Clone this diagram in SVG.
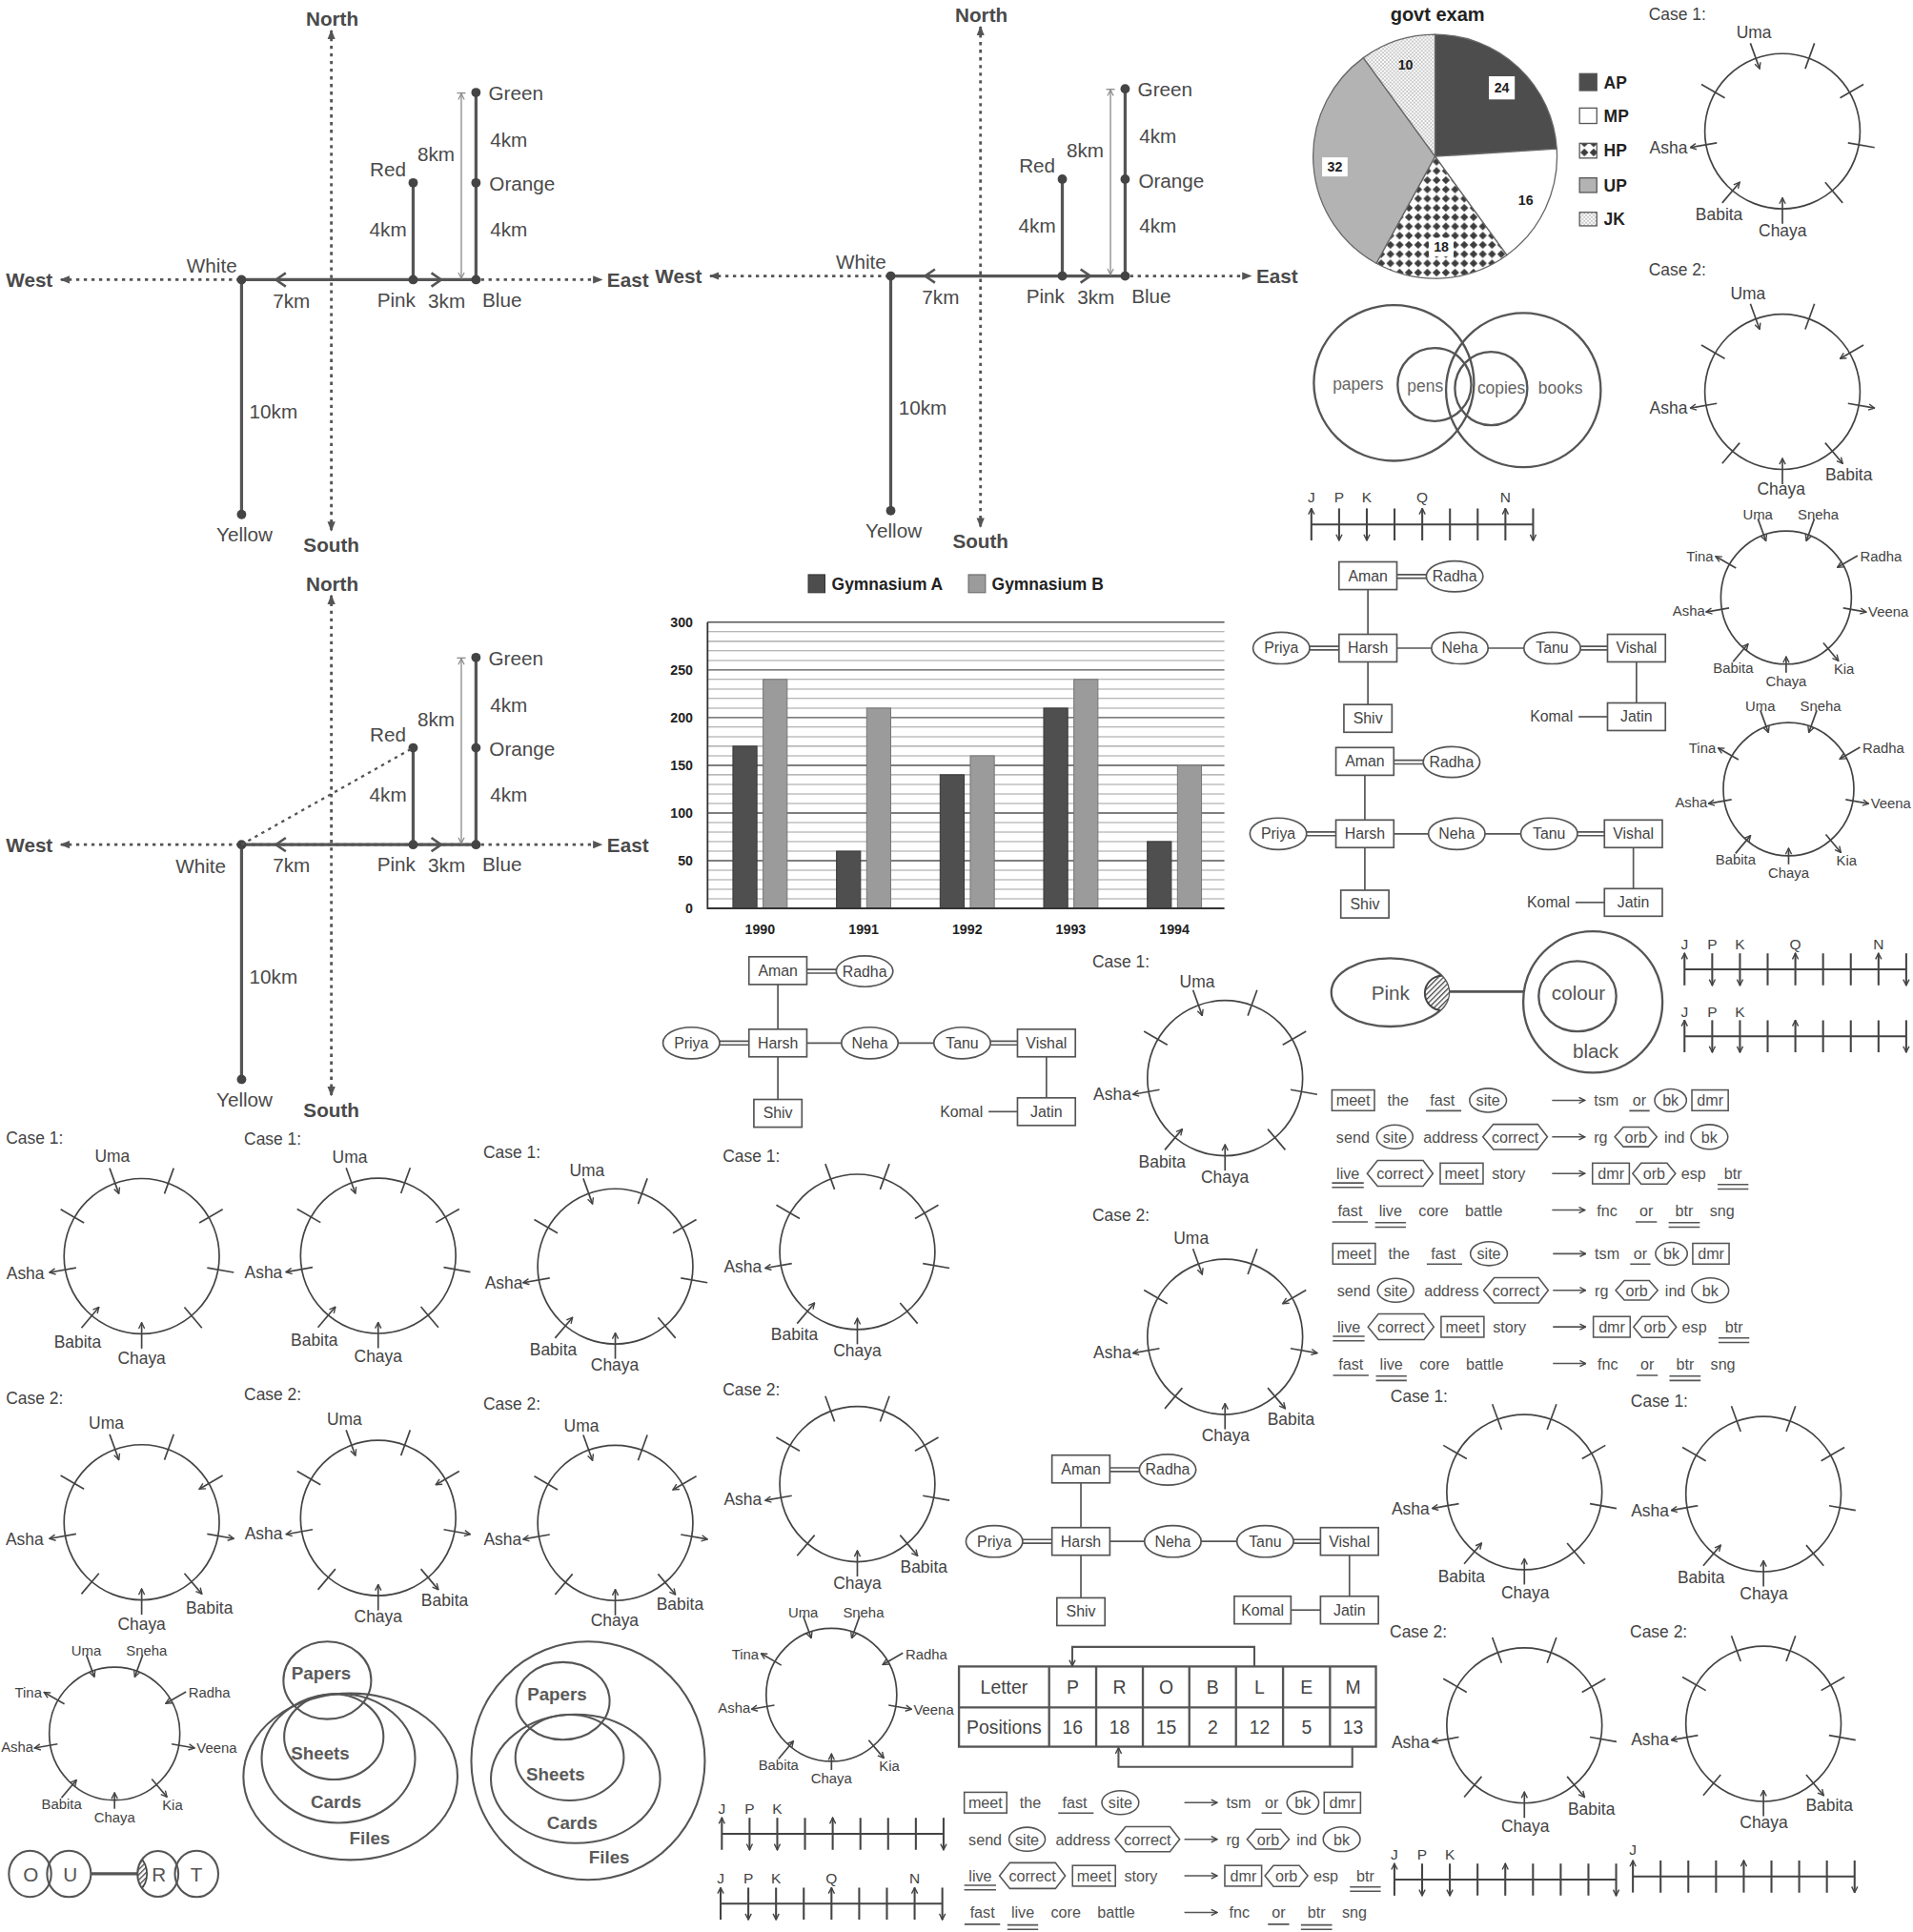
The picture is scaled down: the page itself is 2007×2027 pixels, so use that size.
<svg xmlns="http://www.w3.org/2000/svg" width="2007" height="2027" viewBox="0 0 2007 2027">
<defs>
<style>
text{font-family:"Liberation Sans",Arial,Helvetica,sans-serif;fill:#444;text-anchor:middle;dominant-baseline:central}
.b{font-weight:bold}
.st{text-anchor:start}
.en{text-anchor:end}
.dl{font-size:16px;fill:#4a4a4a}
.cl{font-size:13.5px}
.el{font-size:11.5px}
.tl{font-size:12.3px}
.cb{font-size:12.5px;fill:#505050}
.nl{font-size:12px}
.vn{font-size:13.5px;fill:#666}
.pv{font-size:14.5px;font-weight:bold;fill:#5a5a5a}
.tb{font-size:15px}
.pl{font-size:11px;font-weight:bold;fill:#222}
.lg{font-size:13.5px;font-weight:bold;fill:#222}
.ax{font-size:11px;font-weight:bold;fill:#222}
.s{fill:none;stroke:#444;stroke-width:1.3}
.ar{marker-end:url(#ah)}
.sol{fill:none;stroke:#555;stroke-width:2.5}
.dot{fill:none;stroke:#555;stroke-width:2.2;stroke-dasharray:2.6 3.6}
.nd{fill:#444}
.bx{fill:#fff;stroke:#555;stroke-width:1.3}
.vc{fill:none;stroke:#555;stroke-width:1.6}
</style>
<marker id="ah" viewBox="0 0 10 10" refX="9" refY="5" markerWidth="6" markerHeight="6" markerUnits="userSpaceOnUse" orient="auto-start-reverse"><path d="M1,1L9,5L1,9" fill="none" stroke="#444" stroke-width="1.8"/></marker>
<marker id="ahg" viewBox="0 0 10 10" refX="9" refY="5" markerWidth="6" markerHeight="6" markerUnits="userSpaceOnUse" orient="auto-start-reverse"><path d="M1,1L9,5L1,9" fill="none" stroke="#888" stroke-width="1.5"/></marker>
<marker id="tri" viewBox="0 0 10 10" refX="9" refY="5" markerWidth="8" markerHeight="8" markerUnits="userSpaceOnUse" orient="auto-start-reverse"><path d="M0,1L10,5L0,9Z" fill="#555"/></marker>
<pattern id="diam" width="7.5" height="7.5" patternUnits="userSpaceOnUse"><rect width="7.5" height="7.5" fill="#fff"/><path d="M3.75,0.5L7,3.75L3.75,7L0.5,3.75Z" fill="#3d3d3d"/></pattern>
<pattern id="dots" width="3" height="3" patternUnits="userSpaceOnUse"><rect width="3" height="3" fill="#fff"/><circle cx="0.75" cy="0.75" r="0.55" fill="#777"/><circle cx="2.25" cy="2.25" r="0.55" fill="#777"/></pattern>
<pattern id="hatch" width="3" height="3" patternUnits="userSpaceOnUse" patternTransform="rotate(45)"><rect width="3" height="3" fill="#fff"/><line x1="0.5" y1="0" x2="0.5" y2="3" stroke="#444" stroke-width="1"/></pattern>
<clipPath id="pinkClip"><ellipse cx="1128.5" cy="805.4" rx="47.7" ry="27.7"/></clipPath>
<clipPath id="rClip"><ellipse cx="128.2" cy="1520.8" rx="16.6" ry="18.6"/></clipPath>

<g id="dirS">
<line class="dot" x1="269" y1="24.7" x2="269" y2="430.6" style="marker-start:url(#tri);marker-end:url(#tri)"/>
<line class="dot" x1="49.4" y1="227" x2="488.6" y2="227" style="marker-start:url(#tri);marker-end:url(#tri)"/>
<path class="sol" d="M196.1,227H386.4M335.4,227V148.4M386.4,227V75.1M196.1,227V417.5"/>
<path d="M232,221.5L224,227L232,232.5M350.2,221.5L358.2,227L350.2,232.5" fill="none" stroke="#555" stroke-width="2"/>
<line x1="374.5" y1="76" x2="374.5" y2="226" stroke="#888" stroke-width="1" style="marker-start:url(#ahg);marker-end:url(#ahg)"/>
<path d="M371,75.5H378" stroke="#888" stroke-width="1"/>
<g class="nd"><circle cx="196.1" cy="227" r="3.8"/><circle cx="335.4" cy="227" r="3.8"/><circle cx="386.4" cy="227" r="3.8"/><circle cx="335.4" cy="148.4" r="3.8"/><circle cx="386.4" cy="148.4" r="3.8"/><circle cx="386.4" cy="75.1" r="3.8"/><circle cx="196.1" cy="417.5" r="3.8"/></g>
</g>

<g id="c1u" class="s">
<circle r="63"/>
<path d="M18.5,-50.7L26,-71.4M46.8,-27L65.8,-38M53.2,9.4L74.8,13.2M34.7,41.4L48.9,58.2M-46.8,-27L-65.8,-38"/>
<line class="ar" x1="-26" y1="-71.4" x2="-18.5" y2="-50.7"/>
<line class="ar" x1="-48.9" y1="58.2" x2="-34.7" y2="41.4"/>
<line class="ar" x1="0" y1="75" x2="0" y2="54"/>
<line class="ar" x1="-53.2" y1="9.4" x2="-74.8" y2="13.2"/>
</g>
<g id="c1" class="s">
<circle r="63"/>
<path d="M-18.5,-50.7L-26,-71.4M18.5,-50.7L26,-71.4M46.8,-27L65.8,-38M53.2,9.4L74.8,13.2M34.7,41.4L48.9,58.2M-46.8,-27L-65.8,-38"/>
<line class="ar" x1="-48.9" y1="58.2" x2="-34.7" y2="41.4"/>
<line class="ar" x1="0" y1="75" x2="0" y2="54"/>
<line class="ar" x1="-53.2" y1="9.4" x2="-74.8" y2="13.2"/>
</g>
<g id="c2u" class="s">
<circle r="63"/>
<path d="M18.5,-50.7L26,-71.4M-46.8,-27L-65.8,-38M-34.7,41.4L-48.9,58.2"/>
<line class="ar" x1="-26" y1="-71.4" x2="-18.5" y2="-50.7"/>
<line class="ar" x1="65.8" y1="-38" x2="46.8" y2="-27"/>
<line class="ar" x1="0" y1="75" x2="0" y2="54"/>
<line class="ar" x1="-53.2" y1="9.4" x2="-74.8" y2="13.2"/>
<line class="ar" x1="53.2" y1="9.4" x2="74.8" y2="13.2"/>
<line class="ar" x1="34.7" y1="41.4" x2="48.9" y2="58.2"/>
</g>
<g id="c2" class="s">
<circle r="63"/>
<path d="M-18.5,-50.7L-26,-71.4M18.5,-50.7L26,-71.4M-46.8,-27L-65.8,-38M46.8,-27L65.8,-38M53.2,9.4L74.8,13.2M-34.7,41.4L-48.9,58.2"/>
<line class="ar" x1="0" y1="75" x2="0" y2="54"/>
<line class="ar" x1="-53.2" y1="9.4" x2="-74.8" y2="13.2"/>
<line class="ar" x1="34.7" y1="41.4" x2="48.9" y2="58.2"/>
</g>

<g id="e9" class="s">
<ellipse rx="53" ry="54"/>
<line class="ar" x1="-22.9" y1="-63.9" x2="-16.4" y2="-46"/>
<line class="ar" x1="22.9" y1="-63.9" x2="16.4" y2="-46"/>
<line class="ar" x1="58" y1="-34" x2="41.6" y2="-24.5"/>
<line class="ar" x1="0" y1="61" x2="0" y2="48"/>
<line class="ar" x1="-43.1" y1="52.1" x2="-30.9" y2="37.6"/>
<line class="ar" x1="46.3" y1="8.4" x2="65" y2="11.7"/>
<line class="ar" x1="30.2" y1="36.8" x2="42.5" y2="51.4"/>
<line class="ar" x1="-46.3" y1="8.4" x2="-65" y2="11.7"/>
<line class="ar" x1="-40.7" y1="-24" x2="-57.2" y2="-33.5"/>
</g>

<g id="nlA" class="s" style="stroke-width:1.6">
<path d="M0,0H180M67.5,-13V13M112.5,-13V13M135,-13V13"/>
<line class="ar" x1="0" y1="13" x2="0" y2="-13"/><line class="ar" x1="90" y1="13" x2="90" y2="-13"/><line class="ar" x1="157.5" y1="13" x2="157.5" y2="-13"/>
<line class="ar" x1="22.5" y1="-13" x2="22.5" y2="13"/><line class="ar" x1="45" y1="-13" x2="45" y2="13"/><line class="ar" x1="180" y1="-13" x2="180" y2="13"/>
</g>
<g id="nlB" class="s" style="stroke-width:1.6">
<path d="M0,0H180M67.5,-13V13M112.5,-13V13M135,-13V13M157.5,-13V13"/>
<line class="ar" x1="0" y1="13" x2="0" y2="-13"/><line class="ar" x1="90" y1="13" x2="90" y2="-13"/>
<line class="ar" x1="22.5" y1="-13" x2="22.5" y2="13"/><line class="ar" x1="45" y1="-13" x2="45" y2="13"/><line class="ar" x1="180" y1="-13" x2="180" y2="13"/>
</g>
<g id="nlC" class="s" style="stroke-width:1.6">
<path d="M0,0H180M22.5,-13V13M45,-13V13M67.5,-13V13M112.5,-13V13M135,-13V13M157.5,-13V13"/>
<line class="ar" x1="0" y1="13" x2="0" y2="-13"/><line class="ar" x1="90" y1="13" x2="90" y2="-13"/>
<line class="ar" x1="180" y1="-13" x2="180" y2="13"/>
</g>

<g id="cbs" class="s" style="stroke:#555;stroke-width:1.2">
<rect x="0" y="-8.4" width="34.5" height="16.8"/>
<path d="M76.3,8.5H105M241.4,8.5H257.9"/>
<ellipse cx="126.7" cy="0" rx="15" ry="9.7"/>
<ellipse cx="274.9" cy="0" rx="12.9" ry="9.2"/>
<rect x="292.2" y="-8.4" width="29.5" height="16.8"/>
<ellipse cx="51" cy="29.7" rx="14.7" ry="9.7"/>
<path d="M122.5,29.7L131,19.5L167,19.5L174.9,29.7L167,39.9L131,39.9Z"/>
<path d="M229.6,29.7L236.6,21.7L256.8,21.7L263.8,29.7L256.8,37.7L236.6,37.7Z"/>
<ellipse cx="306.4" cy="29.7" rx="15" ry="10"/>
<path d="M0,67.1H25.8M0,70.7H25.8"/>
<path d="M28.6,59.4L37,48.8L74,48.8L82,59.4L74,69.7L37,69.7Z"/>
<rect x="87.9" y="51" width="34.8" height="16.8"/>
<rect x="211.5" y="51" width="29.9" height="16.8"/>
<path d="M244.1,59.4L251,51L272,51L278.9,59.4L272,68L251,68Z"/>
<path d="M313.1,68.4H338.1M313.1,72H338.1"/>
<path d="M0.2,98.7H29.1M35,99.3H60M35,102.9H60M246.5,98.7H263.8M273.3,99.3H298.6M273.3,102.9H298.6"/>
<line class="ar" x1="178.7" y1="0" x2="205.3" y2="0"/>
<line class="ar" x1="178.7" y1="29.7" x2="205.3" y2="29.7"/>
<line class="ar" x1="178.7" y1="59.4" x2="205.3" y2="59.4"/>
<line class="ar" x1="178.7" y1="89.1" x2="205.3" y2="89.1"/>
</g>

<g id="tree" style="fill:#fff;stroke:#555;stroke-width:1.3">
<path d="M0,-47.5V-11.2M0,11.2V45.8M218,11.2V44.5M23.5,-59.7H47.4M23.5,-56.7H47.4M-47.3,-1.5H-23.5M-47.3,1.5H-23.5M23.5,0H51.6M97.6,0H126.6M172.6,-1.5H194.5M172.6,1.5H194.5"/>
<rect x="-23.5" y="-70" width="47" height="22.5"/>
<ellipse cx="70.4" cy="-58.2" rx="23" ry="12.5"/>
<rect x="-23.5" y="-11.2" width="47" height="22.4"/>
<ellipse cx="-70.3" cy="0" rx="23" ry="12.8"/>
<ellipse cx="74.6" cy="0" rx="23" ry="12.8"/>
<ellipse cx="149.6" cy="0" rx="23" ry="12.8"/>
<rect x="194.5" y="-11.2" width="47" height="22.4"/>
<rect x="-19.5" y="45.8" width="39" height="22.5"/>
<rect x="194.5" y="44.5" width="47" height="22.4"/>
</g>
</defs>

<rect width="2007" height="2027" fill="#fff"/>
<g transform="scale(1.29234 1.29273)">

<!-- direction diagram 1 -->
<g id="dir1">
<use href="#dirS"/>
<text class="dl b" x="269.7" y="15.2">North</text>
<text class="dl b" x="269" y="442.2">South</text>
<text class="dl b" x="23.8" y="227">West</text>
<text class="dl b" x="509.7" y="227">East</text>
<text class="dl" x="172" y="215.3">White</text>
<text class="dl" x="236.6" y="243.8">7km</text>
<text class="dl" x="321.7" y="243">Pink</text>
<text class="dl" x="362.6" y="243.8">3km</text>
<text class="dl" x="407.6" y="243">Blue</text>
<text class="dl" x="315" y="137.3">Red</text>
<text class="dl" x="354" y="125">8km</text>
<text class="dl" x="315" y="186.2">4km</text>
<text class="dl" x="418.8" y="75.6">Green</text>
<text class="dl" x="413" y="113.5">4km</text>
<text class="dl" x="423.9" y="149.3">Orange</text>
<text class="dl" x="413" y="186.2">4km</text>
<text class="dl" x="222" y="334">10km</text>
<text class="dl" x="198.5" y="433.5">Yellow</text>
</g>

<!-- direction diagram 2 -->
<g id="dir2" transform="translate(527,-3)">
<use href="#dirS"/>
<text class="dl b" x="269.7" y="15.2">North</text>
<text class="dl b" x="269" y="442.2">South</text>
<text class="dl b" x="23.8" y="227">West</text>
<text class="dl b" x="509.7" y="227">East</text>
<text class="dl" x="172" y="215.3">White</text>
<text class="dl" x="236.6" y="243.8">7km</text>
<text class="dl" x="321.7" y="243">Pink</text>
<text class="dl" x="362.6" y="243.8">3km</text>
<text class="dl" x="407.6" y="243">Blue</text>
<text class="dl" x="315" y="137.3">Red</text>
<text class="dl" x="354" y="125">8km</text>
<text class="dl" x="315" y="186.2">4km</text>
<text class="dl" x="418.8" y="75.6">Green</text>
<text class="dl" x="413" y="113.5">4km</text>
<text class="dl" x="423.9" y="149.3">Orange</text>
<text class="dl" x="413" y="186.2">4km</text>
<text class="dl" x="222" y="334">10km</text>
<text class="dl" x="198.5" y="433.5">Yellow</text>
</g>

<!-- direction diagram 3 -->
<g id="dir3" transform="translate(0,458.5)">
<use href="#dirS"/>
<line class="dot" x1="196.1" y1="227" x2="335.4" y2="148.4" style="stroke-width:1.8"/>
<text class="dl b" x="269.7" y="15.2">North</text>
<text class="dl b" x="269" y="442.2">South</text>
<text class="dl b" x="23.8" y="227">West</text>
<text class="dl b" x="509.7" y="227">East</text>
<text class="dl" x="163" y="244.5">White</text>
<text class="dl" x="236.6" y="243.8">7km</text>
<text class="dl" x="321.7" y="243">Pink</text>
<text class="dl" x="362.6" y="243.8">3km</text>
<text class="dl" x="407.6" y="243">Blue</text>
<text class="dl" x="315" y="137.3">Red</text>
<text class="dl" x="354" y="125">8km</text>
<text class="dl" x="315" y="186.2">4km</text>
<text class="dl" x="418.8" y="75.6">Green</text>
<text class="dl" x="413" y="113.5">4km</text>
<text class="dl" x="423.9" y="149.3">Orange</text>
<text class="dl" x="413" y="186.2">4km</text>
<text class="dl" x="222" y="334">10km</text>
<text class="dl" x="198.5" y="433.5">Yellow</text>
</g>

<!-- pie chart -->
<g id="pie">
<text class="b" x="1167" y="11.6" style="font-size:15.5px;fill:#222">govt exam</text>
<g stroke="#666" stroke-width="1">
<path d="M1165,127L1165,28A99,99 0 0 1 1263.8,120.8Z" fill="#4d4d4d"/>
<path d="M1165,127L1263.8,120.8A99,99 0 0 1 1223.2,207.1Z" fill="#fff"/>
<path d="M1165,127L1223.2,207.1A99,99 0 0 1 1117.3,213.7Z" fill="url(#diam)"/>
<path d="M1165,127L1117.3,213.7A99,99 0 0 1 1106.8,46.9Z" fill="#b3b3b3"/>
<path d="M1165,127L1106.8,46.9A99,99 0 0 1 1165,28Z" fill="url(#dots)"/>
</g>
<rect x="1208.7" y="61.9" width="21" height="18.8" fill="#fff"/>
<rect x="1073.3" y="127.7" width="20.7" height="15.5" fill="#fff"/>
<rect x="1160" y="193" width="20" height="15" fill="#fff"/>
<text class="pl" x="1219.2" y="71.3">24</text>
<text class="pl" x="1141" y="52.4">10</text>
<text class="pl" x="1083.7" y="135.4">32</text>
<text class="pl" x="1238.6" y="162.5">16</text>
<text class="pl" x="1170" y="200.7">18</text>
<g stroke="#555" stroke-width="1">
<rect x="1282.3" y="59.8" width="14" height="13.7" fill="#4d4d4d"/>
<rect x="1282.3" y="87.7" width="14" height="12.5" fill="#fff"/>
<rect x="1282.3" y="116.3" width="14" height="12" fill="url(#diam)"/>
<rect x="1282.3" y="144.4" width="14" height="11.8" fill="#b3b3b3"/>
<rect x="1282.3" y="172.3" width="14" height="11" fill="url(#dots)"/>
</g>
<text class="lg st" x="1302" y="67">AP</text>
<text class="lg st" x="1302" y="94.5">MP</text>
<text class="lg st" x="1302" y="122.5">HP</text>
<text class="lg st" x="1302" y="150.5">UP</text>
<text class="lg st" x="1302" y="178">JK</text>
</g>

<!-- venn papers/pens/copies/books -->
<g id="venn1">
<g class="vc" style="stroke-width:1.8">
<ellipse cx="1131.6" cy="310.8" rx="65" ry="63.2"/>
<ellipse cx="1236.7" cy="316.6" rx="62.8" ry="62.6"/>
<ellipse cx="1164.5" cy="312.1" rx="29.9" ry="29.7"/>
<ellipse cx="1210.5" cy="315.3" rx="29.4" ry="29.8"/>
</g>
<text class="vn" x="1102.5" y="311.6">papers</text>
<text class="vn" x="1157" y="313.4">pens</text>
<text class="vn" x="1218.8" y="315.2">copies</text>
<text class="vn" x="1266.8" y="315.2">books</text>
</g>

<!-- number lines -->
<g id="nl1">
<use href="#nlA" transform="translate(1064.6,425.6)"/>
<text class="nl" x="1064.6" y="403.7">J</text><text class="nl" x="1087.1" y="403.7">P</text><text class="nl" x="1109.6" y="403.7">K</text><text class="nl" x="1154.6" y="403.7">Q</text><text class="nl" x="1222.1" y="403.7">N</text>
</g>
<g id="nl2">
<use href="#nlA" transform="translate(1367.5,786.7)"/>
<text class="nl" x="1367.5" y="766">J</text><text class="nl" x="1390" y="766">P</text><text class="nl" x="1412.5" y="766">K</text><text class="nl" x="1457.5" y="766">Q</text><text class="nl" x="1525" y="766">N</text>
</g>
<g id="nl3">
<use href="#nlB" transform="translate(1367.5,841)"/>
<text class="nl" x="1367.5" y="821">J</text><text class="nl" x="1390" y="821">P</text><text class="nl" x="1412.5" y="821">K</text>
</g>
<g id="nl4">
<use href="#nlB" transform="translate(586,1488.3)"/>
<text class="nl" x="586" y="1467.7">J</text><text class="nl" x="608.5" y="1467.7">P</text><text class="nl" x="631" y="1467.7">K</text>
</g>
<g id="nl5">
<use href="#nlA" transform="translate(585,1545)"/>
<text class="nl" x="585" y="1524">J</text><text class="nl" x="607.5" y="1524">P</text><text class="nl" x="630" y="1524">K</text><text class="nl" x="675" y="1524">Q</text><text class="nl" x="742.5" y="1524">N</text>
</g>
<g id="nl6">
<use href="#nlB" transform="translate(1132,1525.5)"/>
<text class="nl" x="1132" y="1505">J</text><text class="nl" x="1154.5" y="1505">P</text><text class="nl" x="1177" y="1505">K</text>
</g>
<g id="nl7">
<use href="#nlC" transform="translate(1325.6,1523)"/>
<text class="nl" x="1325.6" y="1501">J</text>
</g>

<!-- family trees -->
<g id="tree1" transform="translate(1110.5,526)">
<use href="#tree"/>
<path d="M171,55.7H194.5" stroke="#555" stroke-width="1.3"/>
<text class="tl" x="0" y="-58.7">Aman</text><text class="tl" x="70.4" y="-58.2">Radha</text><text class="tl" x="-70.3" y="0">Priya</text><text class="tl" x="0" y="0">Harsh</text><text class="tl" x="74.6" y="0">Neha</text><text class="tl" x="149.6" y="0">Tanu</text><text class="tl" x="218" y="0">Vishal</text><text class="tl" x="0" y="57">Shiv</text><text class="tl" x="218" y="55.7">Jatin</text><text class="tl" x="149" y="55.7">Komal</text>
</g>
<g id="tree2" transform="translate(1108,676.7)">
<use href="#tree"/>
<path d="M171,55.7H194.5" stroke="#555" stroke-width="1.3"/>
<text class="tl" x="0" y="-58.7">Aman</text><text class="tl" x="70.4" y="-58.2">Radha</text><text class="tl" x="-70.3" y="0">Priya</text><text class="tl" x="0" y="0">Harsh</text><text class="tl" x="74.6" y="0">Neha</text><text class="tl" x="149.6" y="0">Tanu</text><text class="tl" x="218" y="0">Vishal</text><text class="tl" x="0" y="57">Shiv</text><text class="tl" x="218" y="55.7">Jatin</text><text class="tl" x="149" y="55.7">Komal</text>
</g>
<g id="tree3" transform="translate(631.5,846.5)">
<use href="#tree"/>
<path d="M171,55.7H194.5" stroke="#555" stroke-width="1.3"/>
<text class="tl" x="0" y="-58.7">Aman</text><text class="tl" x="70.4" y="-58.2">Radha</text><text class="tl" x="-70.3" y="0">Priya</text><text class="tl" x="0" y="0">Harsh</text><text class="tl" x="74.6" y="0">Neha</text><text class="tl" x="149.6" y="0">Tanu</text><text class="tl" x="218" y="0">Vishal</text><text class="tl" x="0" y="57">Shiv</text><text class="tl" x="218" y="55.7">Jatin</text><text class="tl" x="149" y="55.7">Komal</text>
</g>
<g id="tree4" transform="translate(877.5,1251)">
<use href="#tree"/>
<path d="M170.5,55.7H194.5" stroke="#555" stroke-width="1.3"/>
<rect x="124.5" y="44.5" width="46" height="22.4" class="bx"/>
<text class="tl" x="0" y="-58.7">Aman</text><text class="tl" x="70.4" y="-58.2">Radha</text><text class="tl" x="-70.3" y="0">Priya</text><text class="tl" x="0" y="0">Harsh</text><text class="tl" x="74.6" y="0">Neha</text><text class="tl" x="149.6" y="0">Tanu</text><text class="tl" x="218" y="0">Vishal</text><text class="tl" x="0" y="57">Shiv</text><text class="tl" x="218" y="55.7">Jatin</text><text class="tl" x="147.5" y="55.7">Komal</text>
</g>

<!-- bar chart -->
<g id="barchart">
<rect x="656.2" y="466.4" width="13.5" height="14.6" fill="#4d4d4d" stroke="#333" stroke-width="0.8"/>
<text class="lg st" x="675.2" y="474">Gymnasium A</text>
<rect x="786.2" y="466.4" width="13.8" height="14.6" fill="#9b9b9b" stroke="#666" stroke-width="0.8"/>
<text class="lg st" x="805.2" y="474">Gymnasium B</text>
<path d="M574.4,729.5H994M574.4,721.7H994M574.4,714H994M574.4,706.2H994M574.4,690.8H994M574.4,683H994M574.4,675.3H994M574.4,667.5H994M574.4,652.1H994M574.4,644.3H994M574.4,636.6H994M574.4,628.8H994M574.4,613.4H994M574.4,605.6H994M574.4,597.9H994M574.4,590.1H994M574.4,574.7H994M574.4,566.9H994M574.4,559.2H994M574.4,551.4H994M574.4,536H994M574.4,528.2H994M574.4,520.5H994M574.4,512.7H994" stroke="#a0a0a0" stroke-width="0.8" fill="none"/>
<path d="M574.4,698.5H994M574.4,659.8H994M574.4,621.1H994M574.4,582.4H994M574.4,543.7H994M574.4,505H994" stroke="#555" stroke-width="1.1" fill="none"/>
<g stroke-width="0.8">
<rect x="595" y="605.6" width="19.5" height="131.6" fill="#4f4f4f" stroke="#3a3a3a"/>
<rect x="619.5" y="551.4" width="19.5" height="185.8" fill="#9b9b9b" stroke="#777"/>
<rect x="679.1" y="690.8" width="19.5" height="46.4" fill="#4f4f4f" stroke="#3a3a3a"/>
<rect x="703.6" y="574.7" width="19.5" height="162.5" fill="#9b9b9b" stroke="#777"/>
<rect x="763.2" y="628.8" width="19.5" height="108.4" fill="#4f4f4f" stroke="#3a3a3a"/>
<rect x="787.7" y="613.4" width="19.5" height="123.8" fill="#9b9b9b" stroke="#777"/>
<rect x="847.3" y="574.7" width="19.5" height="162.5" fill="#4f4f4f" stroke="#3a3a3a"/>
<rect x="871.8" y="551.4" width="19.5" height="185.8" fill="#9b9b9b" stroke="#777"/>
<rect x="931.4" y="683" width="19.5" height="54.2" fill="#4f4f4f" stroke="#3a3a3a"/>
<rect x="955.9" y="621.1" width="19.5" height="116.1" fill="#9b9b9b" stroke="#777"/>
</g>
<path d="M574.4,505V737.2H994" stroke="#333" stroke-width="1.4" fill="none"/>
<text class="ax en" x="562.5" y="505">300</text>
<text class="ax en" x="562.5" y="543.7">250</text>
<text class="ax en" x="562.5" y="582.4">200</text>
<text class="ax en" x="562.5" y="621.1">150</text>
<text class="ax en" x="562.5" y="659.8">100</text>
<text class="ax en" x="562.5" y="698.5">50</text>
<text class="ax en" x="562.5" y="737.2">0</text>
<text class="ax" x="617" y="754">1990</text>
<text class="ax" x="701.1" y="754">1991</text>
<text class="ax" x="785.2" y="754">1992</text>
<text class="ax" x="869.3" y="754">1993</text>
<text class="ax" x="953.4" y="754">1994</text>
</g>

<!-- case circles -->
<g id="caseTR1"><use href="#c1u" transform="translate(1447,106.5)"/>
<text class="cl" x="1361.7" y="11.6">Case 1:</text><text class="cl" x="1423.9" y="26.6">Uma</text><text class="cl" x="1354.5" y="120">Asha</text><text class="cl" x="1395.6" y="174.1">Babita</text><text class="cl" x="1447.2" y="187">Chaya</text></g>
<g id="caseTR2"><use href="#c2u" transform="translate(1447,318)"/>
<text class="cl" x="1361.7" y="219.2">Case 2:</text><text class="cl" x="1419" y="238.6">Uma</text><text class="cl" x="1354.5" y="331.4">Asha</text><text class="cl" x="1500.9" y="385.6">Babita</text><text class="cl" x="1446" y="397">Chaya</text></g>
<g id="caseM1"><use href="#c1u" transform="translate(994.5,875)"/>
<text class="cl" x="910" y="780.5">Case 1:</text><text class="cl" x="971.9" y="796.4">Uma</text><text class="cl" x="903" y="888">Asha</text><text class="cl" x="943.5" y="942.8">Babita</text><text class="cl" x="994.4" y="955.4">Chaya</text></g>
<g id="caseM2"><use href="#c2u" transform="translate(994.5,1085)"/>
<text class="cl" x="910" y="986">Case 2:</text><text class="cl" x="967" y="1005">Uma</text><text class="cl" x="903" y="1098">Asha</text><text class="cl" x="1048" y="1152">Babita</text><text class="cl" x="995" y="1165">Chaya</text></g>
<g id="caseR1a"><use href="#c1u" transform="translate(115,1019.5)"/>
<text class="cl" x="28.1" y="923.5">Case 1:</text><text class="cl" x="91.2" y="938.4">Uma</text><text class="cl" x="20.6" y="1033.6">Asha</text><text class="cl" x="63" y="1089.3">Babita</text><text class="cl" x="115" y="1102.7">Chaya</text></g>
<g id="caseR1b"><use href="#c1u" transform="translate(307,1019.2)"/>
<text class="cl" x="221.4" y="924.7">Case 1:</text><text class="cl" x="284" y="939.4">Uma</text><text class="cl" x="213.9" y="1033">Asha</text><text class="cl" x="255.2" y="1088">Babita</text><text class="cl" x="307" y="1100.6">Chaya</text></g>
<g id="caseR1c"><use href="#c1u" transform="translate(499.5,1027.8)"/>
<text class="cl" x="415.5" y="935">Case 1:</text><text class="cl" x="476.6" y="949.7">Uma</text><text class="cl" x="409" y="1041.4">Asha</text><text class="cl" x="449.2" y="1095.5">Babita</text><text class="cl" x="499.1" y="1107.9">Chaya</text></g>
<g id="caseR1d"><use href="#c1" transform="translate(696,1016)"/>
<text class="cl" x="610" y="938">Case 1:</text><text class="cl" x="603" y="1028">Asha</text><text class="cl" x="645" y="1083">Babita</text><text class="cl" x="696" y="1096">Chaya</text></g>
<g id="caseR2a"><use href="#c2u" transform="translate(115,1235.5)"/>
<text class="cl" x="28.1" y="1134.9">Case 2:</text><text class="cl" x="86.3" y="1155">Uma</text><text class="cl" x="20" y="1249">Asha</text><text class="cl" x="170" y="1305">Babita</text><text class="cl" x="115" y="1318">Chaya</text></g>
<g id="caseR2b"><use href="#c2u" transform="translate(307,1232)"/>
<text class="cl" x="221.4" y="1132">Case 2:</text><text class="cl" x="279.6" y="1152">Uma</text><text class="cl" x="214" y="1245">Asha</text><text class="cl" x="361" y="1299">Babita</text><text class="cl" x="307" y="1312">Chaya</text></g>
<g id="caseR2c"><use href="#c2u" transform="translate(499.5,1236)"/>
<text class="cl" x="415.5" y="1139.2">Case 2:</text><text class="cl" x="472" y="1157.3">Uma</text><text class="cl" x="408" y="1249">Asha</text><text class="cl" x="552" y="1302">Babita</text><text class="cl" x="499" y="1315">Chaya</text></g>
<g id="caseR2d"><use href="#c2" transform="translate(696,1204.5)"/>
<text class="cl" x="610" y="1128">Case 2:</text><text class="cl" x="603" y="1217">Asha</text><text class="cl" x="750" y="1272">Babita</text><text class="cl" x="696" y="1285">Chaya</text></g>
<g id="caseBR1a"><use href="#c1" transform="translate(1237.5,1211)"/>
<text class="cl" x="1152.1" y="1133.6">Case 1:</text><text class="cl" x="1145.1" y="1224.5">Asha</text><text class="cl" x="1186.5" y="1279.4">Babita</text><text class="cl" x="1238.2" y="1292.7">Chaya</text></g>
<g id="caseBR1b"><use href="#c1" transform="translate(1431.6,1212.6)"/>
<text class="cl" x="1347.1" y="1137.1">Case 1:</text><text class="cl" x="1339.5" y="1226.3">Asha</text><text class="cl" x="1381" y="1280.3">Babita</text><text class="cl" x="1431.9" y="1293.3">Chaya</text></g>
<g id="caseBR2a"><use href="#c2" transform="translate(1237.5,1400.4)"/>
<text class="cl" x="1151.5" y="1324.6">Case 2:</text><text class="cl" x="1145.1" y="1414">Asha</text><text class="cl" x="1292" y="1468.4">Babita</text><text class="cl" x="1238.2" y="1482.2">Chaya</text></g>
<g id="caseBR2b"><use href="#c2" transform="translate(1431.6,1399)"/>
<text class="cl" x="1346.5" y="1324.6">Case 2:</text><text class="cl" x="1339.5" y="1412">Asha</text><text class="cl" x="1485" y="1465.4">Babita</text><text class="cl" x="1431.9" y="1479.3">Chaya</text></g>

<!-- nine-name circles -->
<g id="ring1" transform="translate(1450,485)"><use href="#e9"/>
<text class="el" x="-23" y="-67">Uma</text><text class="el" x="26" y="-67">Sneha</text><text class="el" x="77" y="-33">Radha</text><text class="el" x="83" y="12">Veena</text><text class="el" x="47" y="58">Kia</text><text class="el" x="0" y="68">Chaya</text><text class="el" x="-43" y="57">Babita</text><text class="el" x="-79" y="11">Asha</text><text class="el" x="-70" y="-33">Tina</text></g>
<g id="ring2" transform="translate(1452,640.5)"><use href="#e9"/>
<text class="el" x="-23" y="-67">Uma</text><text class="el" x="26" y="-67">Sneha</text><text class="el" x="77" y="-33">Radha</text><text class="el" x="83" y="12">Veena</text><text class="el" x="47" y="58">Kia</text><text class="el" x="0" y="68">Chaya</text><text class="el" x="-43" y="57">Babita</text><text class="el" x="-79" y="11">Asha</text><text class="el" x="-70" y="-33">Tina</text></g>
<g id="ring3" transform="translate(93,1407)"><use href="#e9"/>
<text class="el" x="-23" y="-67">Uma</text><text class="el" x="26" y="-67">Sneha</text><text class="el" x="77" y="-33">Radha</text><text class="el" x="83" y="12">Veena</text><text class="el" x="47" y="58">Kia</text><text class="el" x="0" y="68">Chaya</text><text class="el" x="-43" y="57">Babita</text><text class="el" x="-79" y="11">Asha</text><text class="el" x="-70" y="-33">Tina</text></g>
<g id="ring4" transform="translate(675,1375.5)"><use href="#e9"/>
<text class="el" x="-23" y="-67">Uma</text><text class="el" x="26" y="-67">Sneha</text><text class="el" x="77" y="-33">Radha</text><text class="el" x="83" y="12">Veena</text><text class="el" x="47" y="58">Kia</text><text class="el" x="0" y="68">Chaya</text><text class="el" x="-43" y="57">Babita</text><text class="el" x="-79" y="11">Asha</text><text class="el" x="-70" y="-33">Tina</text></g>

<!-- pink / colour / black -->
<g id="pinkDiag">
<ellipse cx="1128.5" cy="805.4" rx="47.7" ry="27.7" class="vc" style="stroke-width:1.8"/>
<circle cx="1170.7" cy="806" r="14" fill="url(#hatch)" stroke="#444" stroke-width="1.5" clip-path="url(#pinkClip)"/>
<path d="M1176.2,804.8H1236.6" stroke="#555" stroke-width="2.2"/>
<ellipse cx="1293.1" cy="813.2" rx="56.5" ry="57.4" class="vc" style="stroke-width:1.8"/>
<ellipse cx="1280.6" cy="808.6" rx="31.5" ry="28.5" class="vc" style="stroke-width:1.8"/>
<text x="1128.8" y="805.5" style="font-size:16px;fill:#555">Pink</text>
<text x="1281.4" y="806" style="font-size:16px;fill:#555">colour</text>
<text x="1295.4" y="852.5" style="font-size:16px;fill:#555">black</text>
</g>

<!-- code blocks -->
<g id="code1" transform="translate(1081.3,893)">
<use href="#cbs"/>
<text class="cb" x="17.2" y="0">meet</text><text class="cb" x="53.7" y="0">the</text><text class="cb" x="89.7" y="0">fast</text><text class="cb" x="126.7" y="0">site</text><text class="cb" x="222.7" y="0">tsm</text><text class="cb" x="249.6" y="0">or</text><text class="cb" x="274.9" y="0">bk</text><text class="cb" x="307" y="0">dmr</text>
<text class="cb" x="17" y="29.7">send</text><text class="cb" x="51" y="29.7">site</text><text class="cb" x="96.4" y="29.7">address</text><text class="cb" x="148.7" y="29.7">correct</text><text class="cb" x="218.2" y="29.7">rg</text><text class="cb" x="246.7" y="29.7">orb</text><text class="cb" x="278" y="29.7">ind</text><text class="cb" x="306.4" y="29.7">bk</text>
<text class="cb" x="13" y="59.4">live</text><text class="cb" x="55.3" y="59.4">correct</text><text class="cb" x="105.3" y="59.4">meet</text><text class="cb" x="143.4" y="59.4">story</text><text class="cb" x="226.5" y="59.4">dmr</text><text class="cb" x="261.5" y="59.4">orb</text><text class="cb" x="293.5" y="59.4">esp</text><text class="cb" x="325.6" y="59.4">btr</text>
<text class="cb" x="14.7" y="89.1">fast</text><text class="cb" x="47.5" y="89.1">live</text><text class="cb" x="82.5" y="89.1">core</text><text class="cb" x="123.3" y="89.1">battle</text><text class="cb" x="223.3" y="89.1">fnc</text><text class="cb" x="255.2" y="89.1">or</text><text class="cb" x="286" y="89.1">btr</text><text class="cb" x="316.7" y="89.1">sng</text>
</g>
<g id="code2" transform="translate(1082,1017.5)">
<use href="#cbs"/>
<text class="cb" x="17.2" y="0">meet</text><text class="cb" x="53.7" y="0">the</text><text class="cb" x="89.7" y="0">fast</text><text class="cb" x="126.7" y="0">site</text><text class="cb" x="222.7" y="0">tsm</text><text class="cb" x="249.6" y="0">or</text><text class="cb" x="274.9" y="0">bk</text><text class="cb" x="307" y="0">dmr</text>
<text class="cb" x="17" y="29.7">send</text><text class="cb" x="51" y="29.7">site</text><text class="cb" x="96.4" y="29.7">address</text><text class="cb" x="148.7" y="29.7">correct</text><text class="cb" x="218.2" y="29.7">rg</text><text class="cb" x="246.7" y="29.7">orb</text><text class="cb" x="278" y="29.7">ind</text><text class="cb" x="306.4" y="29.7">bk</text>
<text class="cb" x="13" y="59.4">live</text><text class="cb" x="55.3" y="59.4">correct</text><text class="cb" x="105.3" y="59.4">meet</text><text class="cb" x="143.4" y="59.4">story</text><text class="cb" x="226.5" y="59.4">dmr</text><text class="cb" x="261.5" y="59.4">orb</text><text class="cb" x="293.5" y="59.4">esp</text><text class="cb" x="325.6" y="59.4">btr</text>
<text class="cb" x="14.7" y="89.1">fast</text><text class="cb" x="47.5" y="89.1">live</text><text class="cb" x="82.5" y="89.1">core</text><text class="cb" x="123.3" y="89.1">battle</text><text class="cb" x="223.3" y="89.1">fnc</text><text class="cb" x="255.2" y="89.1">or</text><text class="cb" x="286" y="89.1">btr</text><text class="cb" x="316.7" y="89.1">sng</text>
</g>
<g id="code3" transform="translate(782.8,1463)">
<use href="#cbs"/>
<text class="cb" x="17.2" y="0">meet</text><text class="cb" x="53.7" y="0">the</text><text class="cb" x="89.7" y="0">fast</text><text class="cb" x="126.7" y="0">site</text><text class="cb" x="222.7" y="0">tsm</text><text class="cb" x="249.6" y="0">or</text><text class="cb" x="274.9" y="0">bk</text><text class="cb" x="307" y="0">dmr</text>
<text class="cb" x="17" y="29.7">send</text><text class="cb" x="51" y="29.7">site</text><text class="cb" x="96.4" y="29.7">address</text><text class="cb" x="148.7" y="29.7">correct</text><text class="cb" x="218.2" y="29.7">rg</text><text class="cb" x="246.7" y="29.7">orb</text><text class="cb" x="278" y="29.7">ind</text><text class="cb" x="306.4" y="29.7">bk</text>
<text class="cb" x="13" y="59.4">live</text><text class="cb" x="55.3" y="59.4">correct</text><text class="cb" x="105.3" y="59.4">meet</text><text class="cb" x="143.4" y="59.4">story</text><text class="cb" x="226.5" y="59.4">dmr</text><text class="cb" x="261.5" y="59.4">orb</text><text class="cb" x="293.5" y="59.4">esp</text><text class="cb" x="325.6" y="59.4">btr</text>
<text class="cb" x="14.7" y="89.1">fast</text><text class="cb" x="47.5" y="89.1">live</text><text class="cb" x="82.5" y="89.1">core</text><text class="cb" x="123.3" y="89.1">battle</text><text class="cb" x="223.3" y="89.1">fnc</text><text class="cb" x="255.2" y="89.1">or</text><text class="cb" x="286" y="89.1">btr</text><text class="cb" x="316.7" y="89.1">sng</text>
</g>

<!-- PROBLEM table -->
<g id="table">
<rect x="778.5" y="1352.5" width="338.5" height="65.1" fill="none" stroke="#555" stroke-width="1.8"/>
<path d="M778.5,1385.7H1117M851.7,1352.5V1417.6M889.9,1352.5V1417.6M927.8,1352.5V1417.6M965.5,1352.5V1417.6M1003.4,1352.5V1417.6M1041.6,1352.5V1417.6M1079.7,1352.5V1417.6" stroke="#555" stroke-width="1.8" fill="none"/>
<path class="ar" d="M1018.3,1352.5V1336.6H870.5V1352" fill="none" stroke="#555" stroke-width="1.6"/>
<path class="ar" d="M1097.8,1417.6V1434H908V1418.5" fill="none" stroke="#555" stroke-width="1.6"/>
<text class="tb" x="815.1" y="1369">Letter</text><text class="tb" x="870.8" y="1369">P</text><text class="tb" x="908.9" y="1369">R</text><text class="tb" x="946.7" y="1369">O</text><text class="tb" x="984.5" y="1369">B</text><text class="tb" x="1022.5" y="1369">L</text><text class="tb" x="1060.7" y="1369">E</text><text class="tb" x="1098.4" y="1369">M</text>
<text class="tb" x="815.1" y="1401.7">Positions</text><text class="tb" x="870.8" y="1401.7">16</text><text class="tb" x="908.9" y="1401.7">18</text><text class="tb" x="946.7" y="1401.7">15</text><text class="tb" x="984.5" y="1401.7">2</text><text class="tb" x="1022.5" y="1401.7">12</text><text class="tb" x="1060.7" y="1401.7">5</text><text class="tb" x="1098.4" y="1401.7">13</text>
</g>

<!-- Papers venn left -->
<g id="venn2">
<g class="vc">
<ellipse cx="284.5" cy="1441.9" rx="86.9" ry="67.6"/>
<ellipse cx="274.7" cy="1427" rx="62.3" ry="52.4"/>
<ellipse cx="271" cy="1409.6" rx="40.3" ry="34.6"/>
<ellipse cx="265.7" cy="1363.7" rx="35.6" ry="31.5"/>
</g>
<text class="pv" x="260.8" y="1358">Papers</text>
<text class="pv" x="260" y="1423">Sheets</text>
<text class="pv" x="272.8" y="1462.5">Cards</text>
<text class="pv" x="300.2" y="1491.7">Files</text>
</g>
<!-- Papers venn right -->
<g id="venn3">
<g class="vc">
<ellipse cx="477.4" cy="1429" rx="94.8" ry="96.7"/>
<ellipse cx="467.2" cy="1443.7" rx="68.7" ry="52.2"/>
<ellipse cx="462.4" cy="1426.4" rx="44" ry="34.8"/>
<ellipse cx="457" cy="1380.5" rx="37.9" ry="31.5"/>
</g>
<text class="pv" x="452.2" y="1374.8">Papers</text>
<text class="pv" x="451" y="1439.8">Sheets</text>
<text class="pv" x="464.6" y="1479.3">Cards</text>
<text class="pv" x="494.6" y="1507.6">Files</text>
</g>

<!-- O U R T -->
<g id="ourt">
<path d="M74,1520.8H111.7" stroke="#555" stroke-width="2.5"/>
<circle cx="100.4" cy="1520.8" r="18.9" fill="url(#hatch)" stroke="#444" stroke-width="1.3" clip-path="url(#rClip)"/>
<g class="vc">
<ellipse cx="24.4" cy="1520.8" rx="17.2" ry="18.8"/>
<ellipse cx="56" cy="1520.8" rx="17.8" ry="18.8"/>
<ellipse cx="128.2" cy="1520.8" rx="16.6" ry="18.6"/>
<ellipse cx="159.6" cy="1520.8" rx="17.6" ry="18.8"/>
</g>
<text x="25" y="1521" style="font-size:16px;fill:#555">O</text>
<text x="57" y="1521" style="font-size:16px;fill:#555">U</text>
<text x="129" y="1521" style="font-size:16px;fill:#555">R</text>
<text x="159.5" y="1521" style="font-size:16px;fill:#555">T</text>
</g>

</g>
</svg>
